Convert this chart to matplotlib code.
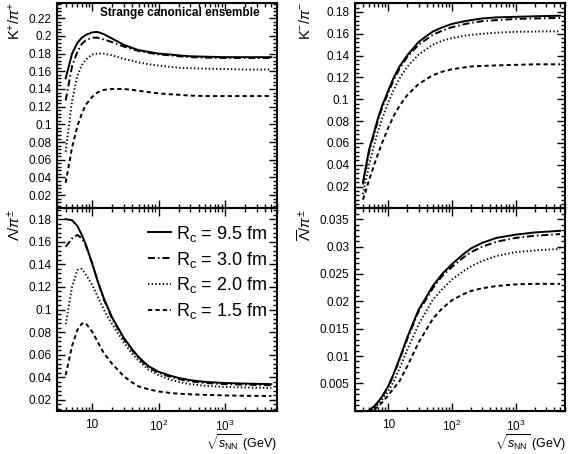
import numpy as np
import matplotlib
matplotlib.use("Agg")
import matplotlib.pyplot as plt
from matplotlib.ticker import MultipleLocator, LogLocator, FuncFormatter, NullFormatter

plt.rcParams['font.family'] = ['Liberation Sans', 'DejaVu Sans']
plt.rcParams['mathtext.fontset'] = 'custom'
plt.rcParams['mathtext.rm'] = 'Liberation Sans'
plt.rcParams['mathtext.it'] = 'Liberation Sans:italic'
plt.rcParams['mathtext.bf'] = 'Liberation Sans:bold'

# sqrt(s_NN) in GeV, shared by all curves
sqrt_s = [4, 5, 6, 7, 8, 10, 12, 15, 20, 30, 40, 50, 70, 100, 150, 200, 300, 500, 1000, 2000, 5000]
radii = ["9.5", "3.0", "2.0", "1.5"]

# K+/pi+
kp_95 = [0.152, 0.180, 0.192, 0.198, 0.201, 0.204, 0.2045, 0.202, 0.197, 0.190, 0.1865, 0.184, 0.182, 0.180, 0.179, 0.178, 0.177, 0.1765, 0.176, 0.176, 0.176]
kp_30 = [0.127, 0.166, 0.182, 0.191, 0.195, 0.198, 0.198, 0.196, 0.193, 0.188, 0.185, 0.183, 0.181, 0.179, 0.178, 0.177, 0.176, 0.1755, 0.175, 0.175, 0.175]
kp_20 = [0.069, 0.127, 0.155, 0.167, 0.173, 0.179, 0.180, 0.180, 0.178, 0.174, 0.172, 0.170, 0.168, 0.1665, 0.165, 0.164, 0.1635, 0.163, 0.1625, 0.162, 0.162]
kp_15 = [0.034, 0.074, 0.098, 0.112, 0.122, 0.131, 0.136, 0.139, 0.140, 0.140, 0.139, 0.138, 0.1365, 0.135, 0.134, 0.1335, 0.1325, 0.132, 0.132, 0.132, 0.132]

# K-/pi-
km_95 = [0.024, 0.054, 0.070, 0.084, 0.094, 0.108, 0.119, 0.130, 0.1405, 0.1525, 0.158, 0.162, 0.1658, 0.169, 0.1712, 0.1725, 0.174, 0.175, 0.1755, 0.176, 0.1765]
km_30 = [0.022, 0.052, 0.068, 0.082, 0.092, 0.106, 0.117, 0.128, 0.139, 0.150, 0.155, 0.159, 0.1628, 0.166, 0.1685, 0.170, 0.1715, 0.1725, 0.1735, 0.174, 0.1745]
km_20 = [0.013, 0.040, 0.058, 0.072, 0.082, 0.097, 0.108, 0.119, 0.130, 0.141, 0.146, 0.150, 0.1535, 0.156, 0.158, 0.159, 0.160, 0.161, 0.1618, 0.162, 0.1622]
km_15 = [0.008, 0.026, 0.040, 0.051, 0.060, 0.074, 0.084, 0.094, 0.104, 0.114, 0.1185, 0.122, 0.1252, 0.1275, 0.129, 0.130, 0.1305, 0.131, 0.1315, 0.132, 0.132]

# Lambda/pi
la_95 = [0.180, 0.179, 0.174, 0.166, 0.158, 0.141, 0.126, 0.110, 0.093, 0.075, 0.065, 0.058, 0.050, 0.045, 0.0415, 0.0395, 0.0375, 0.036, 0.035, 0.0345, 0.034]
la_30 = [0.1555, 0.163, 0.166, 0.163, 0.157, 0.141, 0.126, 0.109, 0.092, 0.074, 0.064, 0.057, 0.049, 0.044, 0.0405, 0.0385, 0.0365, 0.035, 0.034, 0.0335, 0.033]
la_20 = [0.087, 0.120, 0.135, 0.136, 0.131, 0.122, 0.112, 0.100, 0.087, 0.071, 0.061, 0.055, 0.047, 0.042, 0.038, 0.036, 0.034, 0.0325, 0.0315, 0.031, 0.0305]
la_15 = [0.042, 0.068, 0.082, 0.0875, 0.088, 0.0805, 0.072, 0.0615, 0.052, 0.041, 0.0355, 0.032, 0.0295, 0.0275, 0.0262, 0.0255, 0.025, 0.0245, 0.024, 0.0237, 0.0235]

# anti-Lambda/pi
al_95 = [-0.001, 0.0001, 0.0008, 0.0017, 0.0026, 0.0045, 0.0066, 0.0095, 0.0135, 0.0185, 0.0209, 0.0228, 0.025, 0.0268, 0.0286, 0.0297, 0.0307, 0.0316, 0.0322, 0.0326, 0.0329]
al_30 = [-0.001, 0.0, 0.0007, 0.0016, 0.0025, 0.0044, 0.0064, 0.0093, 0.0132, 0.0182, 0.0205, 0.0224, 0.0246, 0.0263, 0.0280, 0.0290, 0.0300, 0.0309, 0.0316, 0.0320, 0.0323]
al_20 = [-0.0012, -0.0002, 0.0005, 0.0012, 0.0020, 0.0036, 0.0052, 0.0077, 0.0112, 0.0158, 0.0183, 0.0203, 0.0222, 0.0240, 0.0255, 0.0264, 0.0274, 0.0283, 0.0290, 0.0293, 0.0296]
al_15 = [-0.0015, -0.0005, 0.0002, 0.0008, 0.0015, 0.0028, 0.0040, 0.0054, 0.0082, 0.0125, 0.0149, 0.0168, 0.0187, 0.0202, 0.0213, 0.0219, 0.0224, 0.0228, 0.0231, 0.0232, 0.0232]

line_styles = [
    dict(linestyle='-'),
    dict(dashes=(3.6, 1.5, 0.8, 1.5)),
    dict(dashes=(0.7, 1.2)),
    dict(dashes=(2.2, 1.6)),
]


def fmt_y(v, pos):
    if abs(v) < 1e-9:
        return ''
    return f'{v:g}'


def fmt_x(v, pos):
    e = int(round(np.log10(v)))
    if e == 1:
        return '10'
    return r'$10^{%d}$' % e


def style_axes(ax, ylim, major, minor, xlabels):
    ax.set_xscale('log')
    ax.set_xlim(3, 6000)
    ax.set_ylim(*ylim)
    ax.xaxis.set_major_locator(LogLocator(base=10, numticks=10))
    ax.xaxis.set_minor_locator(LogLocator(base=10, subs=np.arange(2, 10), numticks=20))
    ax.xaxis.set_minor_formatter(NullFormatter())
    if xlabels:
        ax.xaxis.set_major_formatter(FuncFormatter(fmt_x))
    else:
        ax.xaxis.set_major_formatter(NullFormatter())
    ax.yaxis.set_major_locator(MultipleLocator(major))
    ax.yaxis.set_minor_locator(MultipleLocator(minor))
    ax.yaxis.set_major_formatter(FuncFormatter(fmt_y))
    ax.tick_params(which='both', direction='in', top=True, right=True, labelsize=8.5, width=1)
    ax.tick_params(which='major', length=6)
    ax.tick_params(which='minor', length=3)
    ax.tick_params(axis='x', pad=6)
    ax.tick_params(axis='y', pad=4)
    for s in ax.spines.values():
        s.set_linewidth(1.5)


def draw(ax, series):
    for vals, st, r in zip(series, line_styles, radii):
        ax.plot(sqrt_s, vals, color='black', lw=1.4, label=r'R$_{\rm c}$ = %s fm' % r, **st)


fig = plt.figure(figsize=(5.68, 4.54), dpi=100)
ax_tl = fig.add_axes([0.101, 0.541, 0.386, 0.452])
ax_bl = fig.add_axes([0.101, 0.0954, 0.386, 0.4456])
ax_tr = fig.add_axes([0.625, 0.541, 0.370, 0.452])
ax_br = fig.add_axes([0.625, 0.0954, 0.370, 0.4456])

draw(ax_tl, [kp_95, kp_30, kp_20, kp_15])
draw(ax_bl, [la_95, la_30, la_20, la_15])
draw(ax_tr, [km_95, km_30, km_20, km_15])
draw(ax_br, [al_95, al_30, al_20, al_15])

style_axes(ax_tl, (0.005, 0.237), 0.02, 0.004, False)
style_axes(ax_bl, (0.0105, 0.1895), 0.02, 0.004, True)
style_axes(ax_tr, (0.0, 0.188), 0.02, 0.004, False)
style_axes(ax_br, (0.0, 0.037), 0.005, 0.001, True)

ax_tl.text(0.56, 0.95, 'Strange canonical ensemble', transform=ax_tl.transAxes,
           ha='center', va='center', fontsize=8.5, fontweight='bold')

leg = ax_bl.legend(loc='upper right', bbox_to_anchor=(0.96, 0.925), frameon=False,
                   fontsize=13, handlelength=1.25, handletextpad=0.3,
                   labelspacing=0.33, borderpad=0, borderaxespad=0)

# y labels, ROOT style at the top end of each axis
fig.text(15 / 568, 1 - 2 / 454, r'K$^{+}$/$\pi^{+}$', rotation=90, ha='center', va='top', fontsize=10.5)
fig.text(15 / 568, 1 - 209 / 454, r'$\Lambda/\pi^{\pm}$', rotation=90, ha='center', va='top', fontsize=10.5)
fig.text(306 / 568, 1 - 2 / 454, r'K$^{-}$/$\pi^{-}$', rotation=90, ha='center', va='top', fontsize=10.5)
fig.text(306 / 568, 1 - 209 / 454, r'$\overline{\Lambda}/\pi^{\pm}$', rotation=90, ha='center', va='top', fontsize=10.5)

# x labels
fig.text(277 / 568, 1 - 443 / 454, r'$\sqrt{s_{\rm NN}}$ (GeV)', ha='right', va='center', fontsize=9)
fig.text(566 / 568, 1 - 443 / 454, r'$\sqrt{s_{\rm NN}}$ (GeV)', ha='right', va='center', fontsize=9)

fig.savefig('out.png', dpi=100)
